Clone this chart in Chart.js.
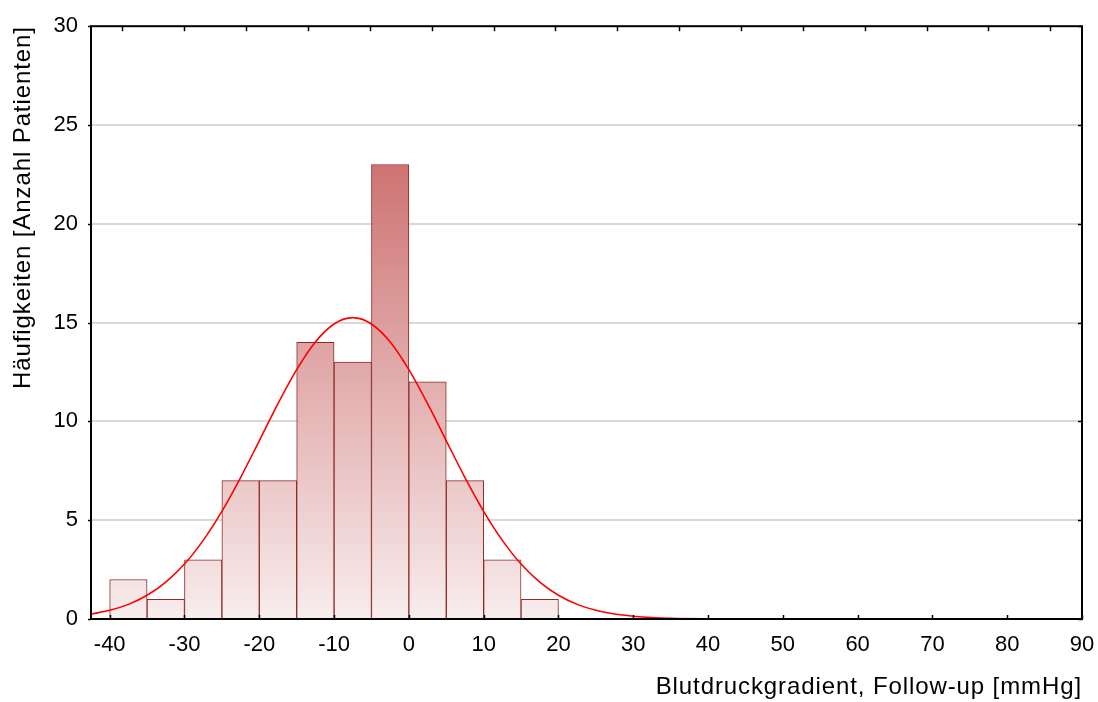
<!DOCTYPE html>
<html>
<head>
<meta charset="utf-8">
<script src="https://cdn.jsdelivr.net/npm/chart.js@4"></script>
<style>
  html, body { margin:0; padding:0; background:#fff; }
  #wrap { width:1098px; height:702px; }
</style>
</head>
<body>
<div id="wrap"><canvas id="chart"></canvas></div>
<script>
// DATEN
const binMitte = [-37.5, -32.5, -27.5, -22.5, -17.5, -12.5, -7.5, -2.5, 2.5, 7.5, 12.5, 17.5];
const anzahl   = [2, 1, 3, 7, 7, 14, 13, 23, 12, 7, 3, 1];

// Normalkurve
const kurveX = [-42.5, -40, -37.5, -35, -32.5, -30, -27.5, -25, -22.5, -20, -17.5, -15, -12.5, -10, -7.5,
                -5, -2.5, 0, 2.5, 5, 7.5, 10, 12.5, 15, 17.5, 20, 22.5, 25, 27.5, 30, 32.5, 35, 40, 50, 60, 70, 80, 90];
const kurveY = [0.25, 0.44, 0.74, 1.2, 1.87, 2.78, 3.98, 5.45, 7.16, 9.02, 10.9, 12.62, 14.02, 14.93, 15.25,
                14.93, 14.02, 12.62, 10.9, 9.02, 7.16, 5.45, 3.98, 2.78, 1.87, 1.2, 0.74, 0.44, 0.25, 0.14, 0.07, 0.035, 0.01, 0, 0, 0, 0, 0];

const xTicks = [-40, -30, -20, -10, 0, 10, 20, 30, 40, 50, 60, 70, 80, 90];
const yTicks = [0, 5, 10, 15, 20, 25, 30];
// Striche oben (ohne Beschriftung)
const obenTicks = [-38.3, -30.03, -21.76, -13.49, -5.22, 3.05, 11.32, 19.59, 27.86, 36.13, 44.4, 52.67, 60.94, 69.21, 77.48, 85.75];

const schrift = "'Liberation Sans', Arial, sans-serif";

// RAHMEN + TICKS
const rahmen = {
  id: "rahmen",
  afterDraw(c){
    let ctx = c.ctx, a = c.chartArea;
    let xs = c.scales.x, ys = c.scales.y;
    ctx.save();
    ctx.strokeStyle = "#000";
    ctx.lineWidth = 1.5;
    // ticks x unten, nach innen
    xTicks.forEach(v=>{
      let px = Math.round(xs.getPixelForValue(v)) + 0.5;
      ctx.beginPath(); ctx.moveTo(px, a.bottom); ctx.lineTo(px, a.bottom - 4); ctx.stroke();
    });
    // ticks oben, nach innen
    obenTicks.forEach(v=>{
      let px = Math.round(xs.getPixelForValue(v)) + 0.5;
      ctx.beginPath(); ctx.moveTo(px, a.top); ctx.lineTo(px, a.top + 5); ctx.stroke();
    });
    // ticks y links aussen, rechts innen
    yTicks.forEach(v=>{
      let py = Math.round(ys.getPixelForValue(v)) + 0.5;
      ctx.beginPath(); ctx.moveTo(a.left - 3, py); ctx.lineTo(a.left, py); ctx.stroke();
      ctx.beginPath(); ctx.moveTo(a.right, py); ctx.lineTo(a.right - 4, py); ctx.stroke();
    });
    ctx.lineWidth = 2;
    ctx.strokeRect(a.left, a.top, a.right - a.left, a.bottom - a.top);
    ctx.restore();
  }
};

// Achsentitel etwas gesperrt
function sperren(s){
  if(s._gesperrt) return;
  s._gesperrt = true;
  let orig = s.drawTitle;
  s.drawTitle = function(){
    let ctx = this.ctx;
    ctx.save();
    ctx.letterSpacing = "0.9px";
    orig.apply(this, arguments);
    ctx.restore();
  };
}

function verlauf(context){
  let c = context.chart, a = c.chartArea;
  if(!a) return "#e0a8a8";
  let g = c.ctx.createLinearGradient(0, a.top, 0, a.bottom);
  g.addColorStop(0, "#c24e4e");
  g.addColorStop(1, "#f8eded");
  return g;
}

new Chart(document.getElementById("chart"), {
  type: "bar",
  data: {
    datasets: [
      {
        type: "line",
        data: kurveX.map((x,i)=>({x:x, y:kurveY[i]})),
        borderColor: "#ff0000",
        borderWidth: 1.6,
        pointRadius: 0,
        cubicInterpolationMode: "monotone",
        fill: false,
        order: 0
      },
      {
        type: "bar",
        data: binMitte.map((x,i)=>({x:x, y:anzahl[i]})),
        backgroundColor: verlauf,
        borderColor: "#8e2a2a",
        borderWidth: 1,
        barPercentage: 1,
        categoryPercentage: 1,
        order: 1
      }
    ]
  },
  options: {
    responsive: true,
    maintainAspectRatio: false,
    animation: false,
    layout: { padding: { left:0, right:16, top:25, bottom:0 } },
    plugins: { legend:{display:false}, tooltip:{enabled:false} },
    scales: {
      x: {
        type: "linear",
        min: -42.5,
        max: 90,
        offset: false,
        afterBuildTicks: s => { s.ticks = xTicks.map(v=>({value:v})); sperren(s); },
        afterFit: s => { s.height = 83; s.paddingRight = 0; s.paddingLeft = 0; },
        grid: { display:false, offset:false, drawTicks:false },
        border: { display:false },
        ticks: { padding: 13, color:"#000", font:{ family:schrift, size:22 }, maxRotation:0 },
        title: {
          display: true,
          text: "Blutdruckgradient, Follow-up [mmHg]",
          align: "end",
          color: "#000",
          font: { family:schrift, size:24 },
          padding: { top:0, bottom:0 }
        }
      },
      y: {
        min: 0,
        max: 30,
        afterBuildTicks: s => { s.ticks = yTicks.map(v=>({value:v})); sperren(s); },
        afterFit: s => { s.width = 91; },
        grid: {
          drawTicks: false,
          color: c => (c.tick.value===0 || c.tick.value===30) ? "rgba(0,0,0,0)" : "#d9d9d9",
          lineWidth: 2
        },
        border: { display:false },
        ticks: { padding: 13, color:"#000", font:{ family:schrift, size:22 } },
        title: {
          display: true,
          text: "Häufigkeiten [Anzahl Patienten]",
          align: "end",
          color: "#000",
          font: { family:schrift, size:24 },
          padding: { top:9, bottom:0 }
        }
      }
    }
  },
  plugins: [rahmen]
});
</script>
</body>
</html>
